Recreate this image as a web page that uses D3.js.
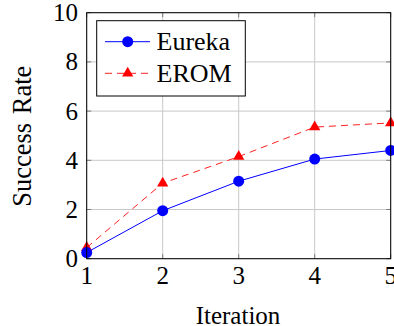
<!DOCTYPE html>
<html>
<head>
<meta charset="utf-8">
<script src="https://cdn.jsdelivr.net/npm/d3@7"></script>
<style>
  body { margin: 0; background: #fff; }
  text { font-family: "Liberation Serif", "DejaVu Serif", serif; fill: #000; }
</style>
</head>
<body>
<div id="chart"></div>
<script>
// Daten
const iterations = [1, 2, 3, 4, 5];
const eureka = [0.25, 1.95, 3.15, 4.05, 4.4];
const erom = [0.45, 3.07, 4.15, 5.35, 5.52];
const xTicks = [1, 2, 3, 4, 5];
const yTicks = [0, 2, 4, 6, 8, 10];

const width = 394, height = 326;
const margin = { top: 12.7, right: 3.3, bottom: 67.3, left: 86.7 };
const fs = 25;

const svg = d3.select('#chart').append('svg')
  .attr('width', width)
  .attr('height', height);

const x = d3.scaleLinear().domain([1, 5]).range([margin.left, width - margin.right]);
const y = d3.scaleLinear().domain([0, 10]).range([height - margin.bottom, margin.top]);

// Gitter
const grid = svg.append('g');
grid.selectAll('line.vx').data(xTicks).enter().append('line')
  .attr('x1', d => x(d)).attr('x2', d => x(d))
  .attr('y1', y(0)).attr('y2', y(10))
  .attr('stroke', '#c8c8c8').attr('stroke-width', 1);
grid.selectAll('line.hy').data(yTicks).enter().append('line')
  .attr('x1', x(1)).attr('x2', x(5))
  .attr('y1', d => y(d)).attr('y2', d => y(d))
  .attr('stroke', '#c8c8c8').attr('stroke-width', 1);

// Ticks innen
const tl = 4.5;
const ticks = svg.append('g').attr('stroke', '#7a7a7a').attr('stroke-width', 1);
xTicks.forEach(d => {
  ticks.append('line').attr('x1', x(d)).attr('x2', x(d)).attr('y1', y(0)).attr('y2', y(0) - tl);
  ticks.append('line').attr('x1', x(d)).attr('x2', x(d)).attr('y1', y(10)).attr('y2', y(10) + tl);
});
yTicks.forEach(d => {
  ticks.append('line').attr('x1', x(1)).attr('x2', x(1) + tl).attr('y1', y(d)).attr('y2', y(d));
  ticks.append('line').attr('x1', x(5)).attr('x2', x(5) - tl).attr('y1', y(d)).attr('y2', y(d));
});

// Linien
const line = (vals) => d3.line().x((d, i) => x(iterations[i])).y(d => y(d))(vals);

svg.append('path')
  .attr('d', line(erom))
  .attr('fill', 'none')
  .attr('stroke', '#ff2020')
  .attr('stroke-width', 1)
  .attr('stroke-dasharray', '7,5');

svg.append('path')
  .attr('d', line(eureka))
  .attr('fill', 'none')
  .attr('stroke', '#0000ff')
  .attr('stroke-width', 1);

const tri = d3.symbol().type(d3.symbolTriangle).size(55);
svg.append('g').selectAll('path').data(erom).enter().append('path')
  .attr('d', tri)
  .attr('transform', (d, i) => `translate(${x(iterations[i])},${y(d)})`)
  .attr('fill', '#ff0000');

svg.append('g').selectAll('circle').data(eureka).enter().append('circle')
  .attr('cx', (d, i) => x(iterations[i]))
  .attr('cy', d => y(d))
  .attr('r', 5.5)
  .attr('fill', '#0000ff');

// Rahmen
svg.append('rect')
  .attr('x', x(1)).attr('y', y(10))
  .attr('width', x(5) - x(1)).attr('height', y(0) - y(10))
  .attr('fill', 'none').attr('stroke', '#000').attr('stroke-width', 1);

// Achsenbeschriftung
svg.append('g').selectAll('text').data(xTicks).enter().append('text')
  .attr('x', d => x(d)).attr('y', 284)
  .attr('text-anchor', 'middle')
  .style('font-size', fs + 'px')
  .text(d => d);

svg.append('g').selectAll('text').data(yTicks).enter().append('text')
  .attr('x', 78).attr('y', d => y(d) + 8.5)
  .attr('text-anchor', 'end')
  .style('font-size', fs + 'px')
  .text(d => d);

svg.append('text')
  .attr('x', 238).attr('y', 323.5)
  .attr('text-anchor', 'middle')
  .style('font-size', fs + 'px')
  .text('Iteration');

svg.append('text')
  .attr('transform', `translate(31,${(y(0) + y(10)) / 2 + 0.5}) rotate(-90)`)
  .attr('text-anchor', 'middle')
  .style('font-size', '26.5px')
  .style('word-spacing', '2px')
  .text('Success Rate');

// Legende
const lg = svg.append('g');
lg.append('rect')
  .attr('x', 96.7).attr('y', 20.7)
  .attr('width', 148.6).attr('height', 75.3)
  .attr('fill', '#fff').attr('stroke', '#000').attr('stroke-width', 1);

const legendItems = [
  { name: 'Eureka', y: 41.7 },
  { name: 'EROM', y: 73.3 }
];

lg.append('line').attr('x1', 105).attr('x2', 150).attr('y1', 41.7).attr('y2', 41.7)
  .attr('stroke', '#0000ff').attr('stroke-width', 1);
lg.append('circle').attr('cx', 127.7).attr('cy', 41.7).attr('r', 5.5).attr('fill', '#0000ff');

lg.append('line').attr('x1', 105).attr('x2', 150).attr('y1', 73.3).attr('y2', 73.3)
  .attr('stroke', '#ff2020').attr('stroke-width', 1).attr('stroke-dasharray', '7,5');
lg.append('path').attr('d', tri).attr('transform', 'translate(127.7,73.3)').attr('fill', '#ff0000');

lg.selectAll('text.lab').data(legendItems).enter().append('text')
  .attr('x', 156.5).attr('y', d => d.y + 8.5)
  .style('font-size', '26px')
  .text(d => d.name);
</script>
</body>
</html>
